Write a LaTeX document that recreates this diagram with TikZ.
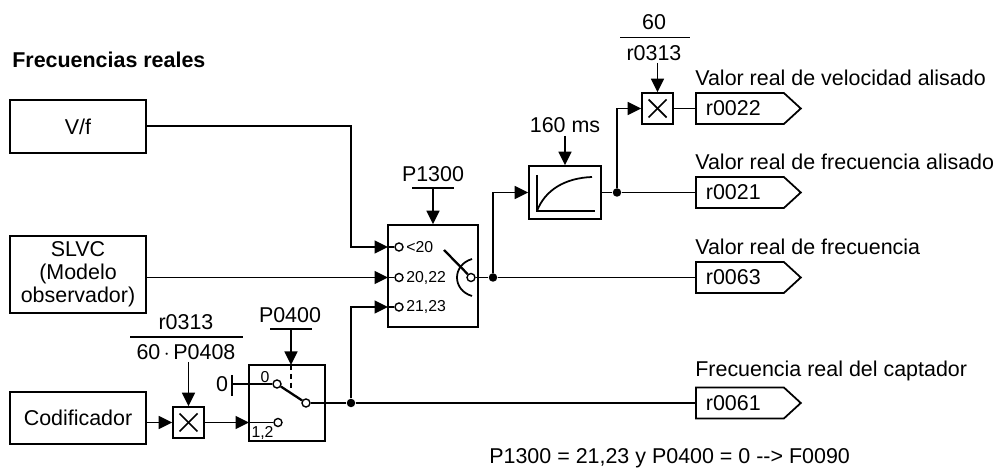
\documentclass[tikz,border=0pt]{standalone}
\usepackage{fontspec}
\setmainfont{Liberation Sans}
\usetikzlibrary{arrows.meta,shapes.symbols}
\tikzset{
  caja/.style={draw, line width=1pt, align=center, inner sep=0pt, font=\fontsize{12.2}{13}\selectfont},
  mult/.style={draw, line width=1pt, minimum size=0.62cm, inner sep=0pt, path picture={
    \draw ([shift={(0.13,-0.13)}]path picture bounding box.north west) -- ([shift={(-0.13,0.13)}]path picture bounding box.south east);
    \draw ([shift={(0.13,0.13)}]path picture bounding box.south west) -- ([shift={(-0.13,-0.13)}]path picture bounding box.north east);}},
  etiqueta/.style={signal, signal to=east, signal pointer angle=85, draw, line width=1pt, minimum height=0.62cm, inner ysep=0pt, inner xsep=0.2cm, text width=1.36cm, align=left, anchor=west, font=\fontsize{12.2}{13}\selectfont},
  texto/.style={inner sep=0pt, font=\fontsize{12.2}{13}\selectfont},
  peque/.style={inner sep=0pt, font=\fontsize{9}{10}\selectfont},
  punto/.style={circle, fill=black, inner sep=0pt, minimum size=0.17cm},
  borne/.style={circle, draw, fill=white, line width=0.8pt, inner sep=0pt, minimum size=0.16cm},
  flecha/.style={-{Triangle[length=0.27cm,width=0.26cm]}, line width=1pt},
  linea/.style={line width=1pt}
}
\begin{document}
\begin{tikzpicture}
  \useasboundingbox (0,0) rectangle (19.94,-9.36);
  % bloques de entrada
  \node[texto, anchor=west, font=\fontsize{12.2}{13}\selectfont\bfseries] (titulo) at (0.24,-1.2) {Frecuencias reales};
  \node[caja, minimum width=2.72cm, minimum height=1.06cm] (vf) at (1.56,-2.53) {V/f};
  \node[caja, minimum width=2.72cm, minimum height=1.54cm] (slvc) at (1.56,-5.49) {SLVC\\(Modelo\\observador)};
  \node[caja, minimum width=2.72cm, minimum height=1.04cm] (cod) at (1.56,-8.36) {Codificador};
  \node[mult] (mult1) at (3.77,-8.45) {};
  \node[caja, minimum width=1.52cm, minimum height=1.52cm] (sw2) at (5.74,-8.06) {};
  \node[caja, minimum width=1.8cm, minimum height=2.04cm] (sw1) at (8.66,-5.52) {};
  \node[caja, minimum width=1.44cm, minimum height=1.06cm] (filtro) at (11.3,-3.85) {};
  \node[mult] (mult2) at (13.15,-2.17) {};
  % salidas
  \node[etiqueta] (r22) at (13.9,-2.17) {r0022};
  \node[etiqueta] (r21) at (13.9,-3.85) {r0021};
  \node[etiqueta] (r63) at (13.9,-5.55) {r0063};
  \node[etiqueta] (r61) at (13.9,-8.06) {r0061};
  \node[texto, anchor=west] (t22) at (13.9,-1.56) {Valor real de velocidad alisado};
  \node[texto, anchor=west] (t21) at (13.9,-3.23) {Valor real de frecuencia alisado};
  \node[texto, anchor=west] (t63) at (13.9,-4.94) {Valor real de frecuencia};
  \node[texto, anchor=west] (t61) at (13.9,-7.41) {Frecuencia real del captador};
  \node[texto, anchor=west] (nota) at (9.78,-9.16) {P1300 = 21,23 y P0400 = 0 -{}-> F0090};
  % textos de parametros
  \node[texto] (p1300) at (8.66,-3.48) {P1300};
  \node[texto] (tiempo) at (11.3,-2.5) {160 ms};
  \node[texto] (n60) at (13.08,-0.44) {60};
  \node[texto] (r313b) at (13.08,-1.06) {r0313};
  \node[texto] (r313a) at (3.72,-6.44) {r0313};
  \node[texto] (p408) at (3.72,-7.04) {60\,$\cdot$\,P0408};
  \node[texto] (p0400) at (5.8,-6.3) {P0400};
  \node[texto] (cero) at (4.44,-7.68) {0};
  % bornes del selector
  \node[borne] (c1) at (7.98,-4.94) {};
  \node[borne] (c2) at (7.98,-5.55) {};
  \node[borne] (c3) at (7.98,-6.14) {};
  \node[borne] (cs) at (9.42,-5.55) {};
  \node[peque, anchor=west] (l1) at (8.12,-4.94) {<20};
  \node[peque, anchor=west] (l2) at (8.12,-5.55) {20,22};
  \node[peque, anchor=west] (l3) at (8.12,-6.14) {21,23};
  \node[borne] (c4) at (5.54,-7.68) {};
  \node[borne] (c5) at (5.56,-8.45) {};
  \node[borne] (c6) at (6.12,-8.06) {};
  \node[peque] (l4) at (5.3,-7.54) {0};
  \node[peque] (l5) at (5.25,-8.66) {1,2};
  % puntos de union
  \node[punto] (p1) at (9.86,-5.55) {};
  \node[punto] (p2) at (12.34,-3.85) {};
  \node[punto] (p3) at (7.02,-8.06) {};
  \coordinate (e1) at (7.76,-4.94);
  \coordinate (e2) at (7.76,-5.55);
  \coordinate (e3) at (7.76,-6.14);
  \coordinate (e4) at (4.98,-8.45);
  \coordinate (b0) at (4.64,-7.68);
  % conexiones
  \draw[flecha] (vf.east |- 0,-2.52) -| (7.02,-4.94) -- (e1);
  \draw[linea] (e1) -- (c1);
  \draw[flecha] (slvc.east |- e2) -- (e2);
  \draw[linea] (e2) -- (c2);
  \draw[flecha] (p3) -- (7.02,-6.14) -- (e3);
  \draw[linea] (e3) -- (c3);
  \draw[flecha] (cod.east |- mult1) -- (mult1.west);
  \draw[flecha] (mult1.east) -- (e4);
  \draw[linea] (e4) -- (c5);
  \draw[linea] (b0) -- (c4);
  \draw[linea] (4.64,-7.5) -- (4.64,-7.92);
  \draw[line width=1.3pt] (c4) -- (c6);
  \draw[linea] (c6) -- (p3);
  \draw[linea] (p3) -- (r61.west);
  \draw[line width=1.3pt] (cs) -- (8.88,-5);
  \draw[linea] (9.44,-5.18) .. controls (9.04,-5.3) and (9.04,-5.8) .. (9.44,-5.92);
  \draw[linea] (cs) -- (p1);
  \draw[linea] (p1) -- (r63.west);
  \draw[flecha] (p1) |- (filtro.west);
  \draw[linea] (filtro.east) -- (p2);
  \draw[linea] (p2) -- (r21.west);
  \draw[flecha] (p2) |- (mult2.west);
  \draw[linea] (mult2.east) -- (r22.west);
  % entradas de parametros
  \draw[linea] (8.24,-3.76) -- (9.08,-3.76);
  \draw[flecha] (8.66,-3.76) -- (sw1.north);
  \draw[flecha] (tiempo.south |- 0,-2.72) -- (filtro.north);
  \draw[linea] (12.4,-0.75) -- (13.8,-0.75);
  \draw[flecha] (mult2.north |- 0,-1.26) -- (mult2.north);
  \draw[linea] (2.6,-6.74) -- (4.86,-6.74);
  \draw[flecha] (mult1.north |- 0,-7.24) -- (mult1.north);
  \draw[linea] (5.4,-6.58) -- (6.24,-6.58);
  \draw[flecha] (5.82,-6.58) -- (5.82,-7.3);
  \draw[linea, dashed, dash pattern=on 3pt off 2pt] (5.82,-7.3) -- (5.82,-7.82);
  % curva del filtro
  \draw[linea] (10.74,-3.5) -- (10.74,-4.22) -- (11.9,-4.22);
  \draw[linea] (10.74,-4.22) .. controls (10.9,-3.8) and (11.3,-3.56) .. (11.84,-3.54);
\end{tikzpicture}
\end{document}
